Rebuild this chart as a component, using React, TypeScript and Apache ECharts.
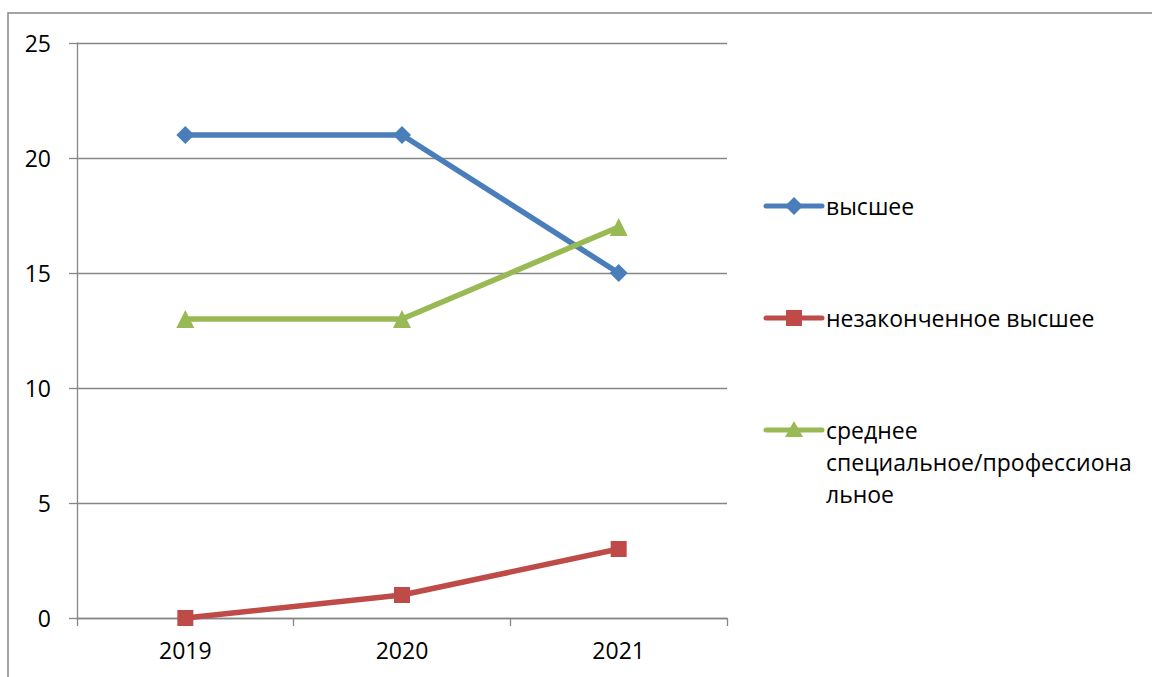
import React, { useEffect, useRef } from "react";
import * as echarts from "echarts";

const categories = ["2019", "2020", "2021"];
const seriesNames = ["высшее", "незаконченное высшее", "среднее специальное/профессиональное"];
const legendLabels = ["высшее", "незаконченное высшее", "среднее\nспециальное/профессиона\nльное"];
const higher = [21, 21, 15];
const incompleteHigher = [0, 1, 3];
const secondary = [13, 13, 17];
const yTicks = { min: 0, max: 25, interval: 5 };

const colors = ["#4A7EBB", "#BE4B48", "#98B954"];
const symbols = ["diamond", "rect", "triangle"];
const symbolSizes = [18, 16, 18];
const FONT = "Open Sans";
const FS = 23;

function legendMarker(i: number, cx: number, cy: number) {
  const c = colors[i];
  if (i === 0) {
    return {
      type: "polygon",
      shape: { points: [[cx, cy - 9], [cx + 9, cy], [cx, cy + 9], [cx - 9, cy]] },
      style: { fill: c },
      silent: true,
    };
  }
  if (i === 1) {
    return {
      type: "rect",
      shape: { x: cx - 8, y: cy - 8, width: 16, height: 16 },
      style: { fill: c },
      silent: true,
    };
  }
  return {
    type: "polygon",
    shape: { points: [[cx, cy - 9], [cx + 9, cy + 7], [cx - 9, cy + 7]] },
    style: { fill: c },
    silent: true,
  };
}

export default function App() {
  const ref = useRef<HTMLDivElement>(null);
  useEffect(() => {
    document.body.style.margin = "0";
    const chart = echarts.init(ref.current!, null, { renderer: "svg" });
    const data = [higher, incompleteHigher, secondary];
    const LH = 32;
    const legendCenters = [206, 318, 430];
    const legendGraphics: any[] = [];
    seriesNames.forEach((_, i) => {
      const cy = legendCenters[i];
      legendGraphics.push({
        type: "line",
        shape: { x1: 766, y1: cy, x2: 822, y2: cy },
        style: { stroke: colors[i], lineWidth: 5, lineCap: "round" },
        silent: true,
      });
      legendGraphics.push(legendMarker(i, 794, cy));
      legendGraphics.push({
        type: "text",
        x: 826,
        y: cy - LH / 2,
        style: {
          text: legendLabels[i],
          fill: "#000",
          fontSize: FS,
          fontFamily: FONT,
          lineHeight: LH,
          verticalAlign: "top",
          align: "left",
        },
        silent: true,
      });
    });
    chart.setOption({
      animation: false,
      backgroundColor: "#ffffff",
      textStyle: { fontFamily: FONT },
      grid: { left: 77, right: 425, top: 43, bottom: 59 },
      legend: { show: false, data: seriesNames },
      xAxis: {
        type: "category",
        data: categories,
        boundaryGap: true,
        axisLine: { show: true, lineStyle: { color: "#868686", width: 1.3 } },
        axisTick: { show: true, length: 8, lineStyle: { color: "#868686", width: 1.3 } },
        axisLabel: { color: "#000", fontSize: FS, fontFamily: FONT, margin: 20 },
        splitLine: { show: false },
      },
      yAxis: {
        type: "value",
        min: yTicks.min,
        max: yTicks.max,
        interval: yTicks.interval,
        axisLine: { show: true, lineStyle: { color: "#868686", width: 1.3 } },
        axisTick: { show: true, length: 8, lineStyle: { color: "#868686", width: 1.3 } },
        axisLabel: { color: "#000", fontSize: FS, fontFamily: FONT, margin: 26 },
        splitLine: { show: true, lineStyle: { color: "#868686", width: 1.3 } },
      },
      series: seriesNames.map((n, i) => ({
        name: n,
        type: "line",
        data: data[i],
        symbol: symbols[i],
        symbolSize: symbolSizes[i],
        lineStyle: { color: colors[i], width: 5.5 },
        itemStyle: { color: colors[i] },
      })),
      graphic: [
        {
          type: "rect",
          shape: { x: 8, y: 13, width: 1300, height: 800 },
          style: { fill: "none", stroke: "#868686", lineWidth: 1.5 },
          silent: true,
        },
        ...legendGraphics,
      ],
    });
    return () => chart.dispose();
  }, []);
  return <div ref={ref} style={{ width: 1152, height: 677 }} />;
}
